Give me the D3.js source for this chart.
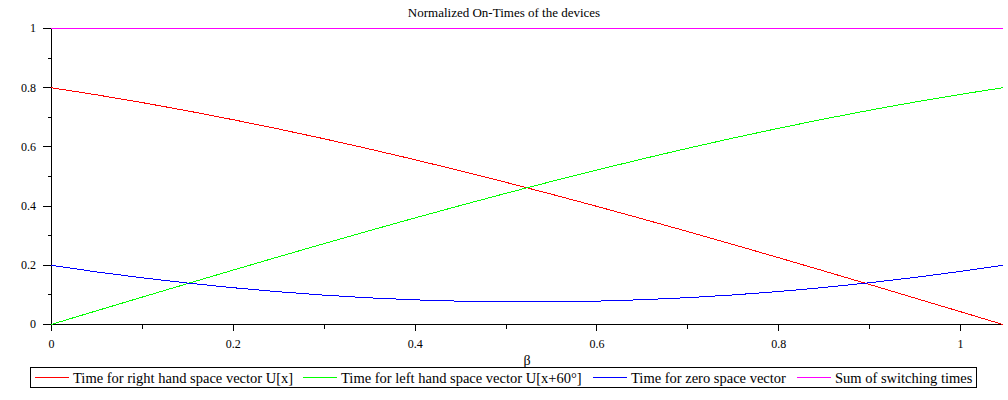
<!DOCTYPE html>
<html><head><meta charset="utf-8">
<script src="https://cdn.jsdelivr.net/npm/d3@7"></script>
<style>
body{margin:0;background:#fff;}
</style></head>
<body><svg id="c" width="1008" height="400"></svg>
<script>
const title = "Normalized On-Times of the devices";
const xLabel = "β";
const beta = [0,0.05,0.1,0.15,0.2,0.25,0.3,0.35,0.4,0.45,0.5,0.55,0.6,0.65,0.7,0.75,0.8,0.85,0.9,0.95,1.0,1.0472];
const tRight = [0.8,0.776,0.7499,0.7219,0.6921,0.6607,0.6277,0.5931,0.557,0.5194,0.4806,0.4406,0.3995,0.3573,0.3143,0.2705,0.226,0.181,0.1355,0.0896,0.0436,0];
const tLeft = [0,0.0462,0.0922,0.138,0.1835,0.2285,0.273,0.3168,0.3597,0.4018,0.4429,0.4828,0.5216,0.559,0.5951,0.6297,0.6627,0.694,0.7236,0.7514,0.7773,0.8];
const tZero = [0.2,0.1778,0.1579,0.1401,0.1244,0.1108,0.0993,0.0901,0.0833,0.0788,0.0765,0.0766,0.0789,0.0837,0.0906,0.0998,0.1113,0.125,0.1409,0.159,0.1791,0.2];
const tSum = [1,1,1,1,1,1,1,1,1,1,1,1,1,1,1,1,1,1,1,1,1,1];
const seriesNames = ["Time for right hand space vector U[x]","Time for left hand space vector U[x+60°]","Time for zero space vector","Sum of switching times"];
const seriesColors = ["#ff0000","#00ff00","#0000ff","#ff00ff"];
const xMajorTicks = [0,0.2,0.4,0.6,0.8,1.0];
const xMinorTicks = [0.1,0.3,0.5,0.7,0.9];
const yMajorTicks = [0,0.2,0.4,0.6,0.8,1];
const yMinorTicks = [0.1,0.3,0.5,0.7,0.9];

const FONT = "'Liberation Serif', 'DejaVu Serif', serif";
const svg = d3.select("#c");
const x = d3.scaleLinear().domain([0,1.0472]).range([51,1003]);
const y = d3.scaleLinear().domain([0,1]).range([324,28]);

svg.append("text").attr("x",504).attr("y",17).attr("text-anchor","middle")
  .style("font-family",FONT).style("font-size","13px").text(title);

const fmt = d => String(d);
const ax = svg.append("g").attr("transform","translate(0,324)");
ax.call(d3.axisBottom(x).tickValues(xMajorTicks).tickSize(7).tickFormat(fmt).tickPadding(8));
const axm = svg.append("g").attr("transform","translate(0,324)");
axm.call(d3.axisBottom(x).tickValues(xMinorTicks).tickSize(5).tickFormat(""));
axm.select(".domain").remove();
ax.select(".domain").attr("d","M51,0.5H1003");
const ay = svg.append("g").attr("transform","translate(51,0)");
ay.call(d3.axisLeft(y).tickValues(yMajorTicks).tickSize(8).tickFormat(fmt).tickPadding(7));
const aym = svg.append("g").attr("transform","translate(51,0)");
aym.call(d3.axisLeft(y).tickValues(yMinorTicks).tickSize(3).tickFormat(""));
aym.select(".domain").remove();
ay.select(".domain").attr("d","M0.5,28V324");
svg.selectAll(".tick text").style("font-family",FONT).style("font-size","12px");
svg.selectAll(".tick line, .domain").attr("shape-rendering","crispEdges");

svg.append("text").attr("x",527).attr("y",365).attr("text-anchor","middle")
  .style("font-family",FONT).style("font-size","14px").text(xLabel);

const allSeries = [tRight,tLeft,tZero,tSum];
const line = d3.line().x((d,i)=>x(beta[i])).y(d=>y(d)+0.5).curve(d3.curveMonotoneX);
allSeries.forEach((s,k)=>{
  svg.append("path").datum(s).attr("d",line).attr("fill","none")
    .attr("stroke",seriesColors[k]).attr("stroke-width",1).attr("shape-rendering","crispEdges");
});

const legendX = [35,303,593,797];
const lg = svg.append("g");
lg.append("rect").attr("x",30.5).attr("y",367.5).attr("width",946).attr("height",20)
  .attr("fill","none").attr("stroke","#000").attr("stroke-width",1).attr("shape-rendering","crispEdges");
seriesNames.forEach((n,k)=>{
  const cx = legendX[k];
  lg.append("line").attr("x1",cx).attr("x2",cx+34).attr("y1",377.5).attr("y2",377.5)
    .attr("stroke",seriesColors[k]).attr("stroke-width",1).attr("shape-rendering","crispEdges");
  lg.append("text").attr("x",cx+38).attr("y",383)
    .style("font-family",FONT).style("font-size","14.5px").text(n);
});
</script></body></html>
